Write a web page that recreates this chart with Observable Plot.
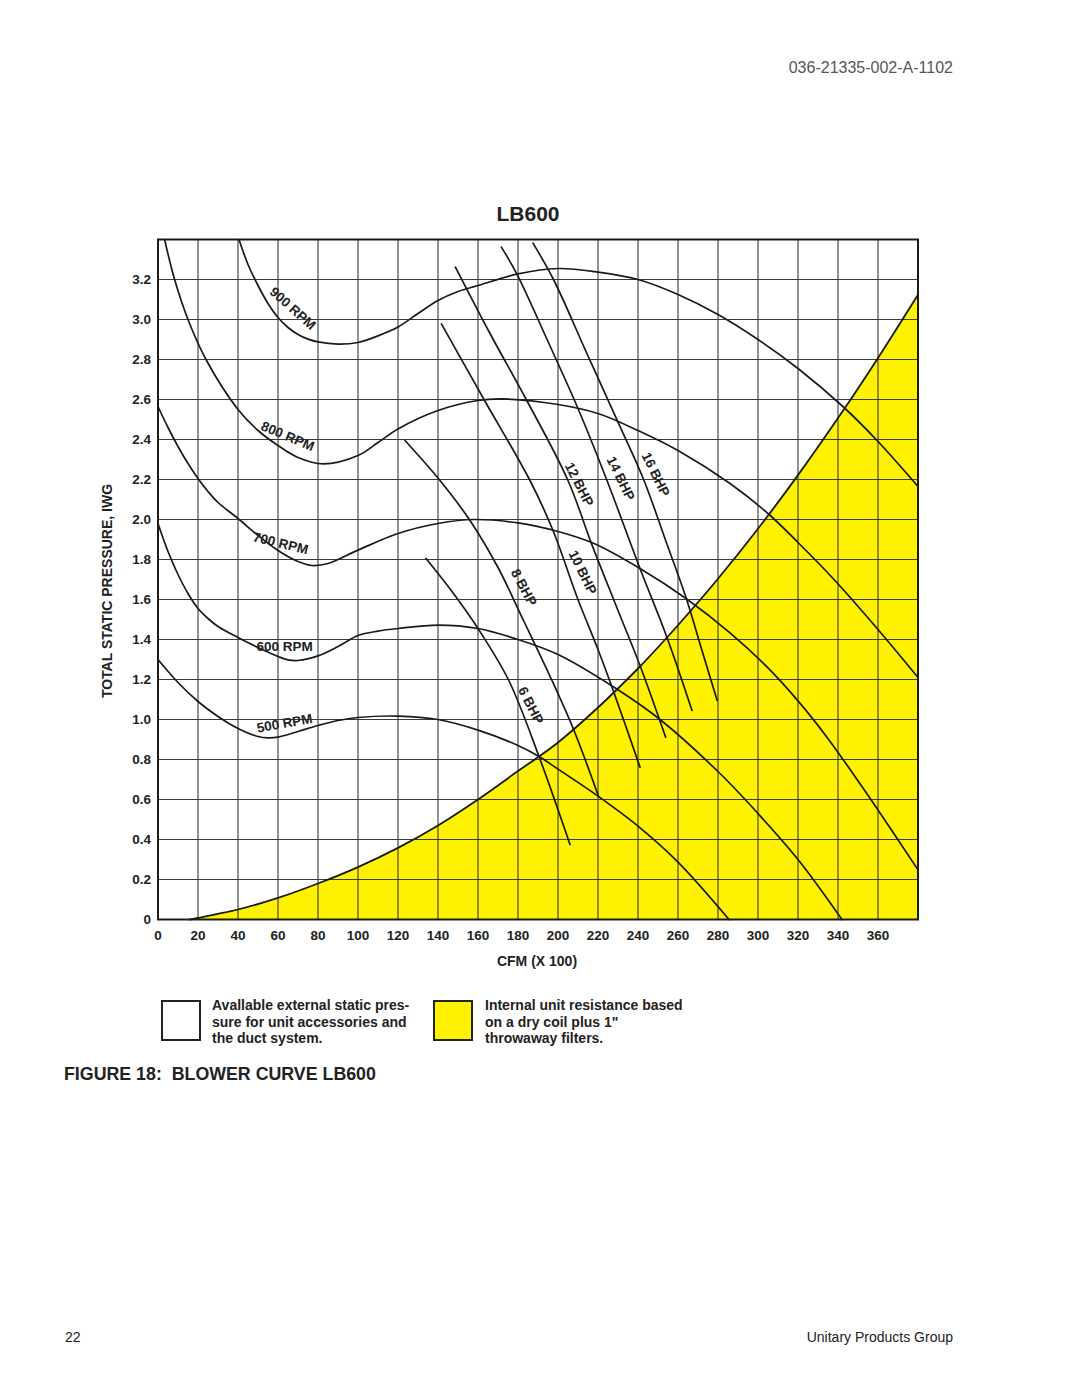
<!DOCTYPE html>
<html>
<head>
<meta charset="utf-8">
<script src="https://cdn.jsdelivr.net/npm/d3@7"></script>
<script src="https://cdn.jsdelivr.net/npm/@observablehq/plot@0.6"></script>
<style>
  html, body { margin: 0; padding: 0; background: #fff; }
  body { width: 1080px; height: 1397px; position: relative; overflow: hidden;
         font-family: "Liberation Sans", Arial, Helvetica, sans-serif; color: #222; }
  .abs { position: absolute; white-space: pre; }
  #chart { position: absolute; left: 0; top: 200px; }
  .bold { font-weight: bold; }
</style>
</head>
<body>
<div class="abs" style="right:127px; top:59px; font-size:16px; color:#555;">036-21335-002-A-1102</div>
<div class="abs bold" style="left:0; width:1056px; text-align:center; top:202px; font-size:21px; color:#222;">LB600</div>
<div id="chart"></div>
<div class="abs bold" style="left:107px; top:591px; font-size:14px; transform:translate(-50%,-50%) rotate(-90deg);">TOTAL STATIC PRESSURE, IWG</div>
<div class="abs bold" style="left:537px; top:961px; font-size:14px; transform:translate(-50%,-50%);">CFM (X 100)</div>

<div class="abs" style="left:161px; top:1000px; width:36px; height:37px; border:2px solid #222; background:#fff;"></div>
<div class="abs bold" style="left:212px; top:997px; font-size:14px; line-height:16.6px;">Avallable external static pres-
sure for unit accessories and
the duct system.</div>
<div class="abs" style="left:433px; top:1000px; width:36px; height:37px; border:2px solid #222; background:#fff200;"></div>
<div class="abs bold" style="left:485px; top:997px; font-size:14px; line-height:16.6px;">Internal unit resistance based
on a dry coil plus 1"
throwaway filters.</div>

<div class="abs bold" style="left:64px; top:1064px; font-size:17.8px;">FIGURE 18:  BLOWER CURVE LB600</div>
<div class="abs" style="left:65px; top:1329px; font-size:14px;">22</div>
<div class="abs" style="right:127px; top:1329px; font-size:14px;">Unitary Products Group</div>

<script>
// ---- Axis ticks ----
const xTicks = d3.range(0, 361, 20);
const yTicks = [0, 0.2, 0.4, 0.6, 0.8, 1.0, 1.2, 1.4, 1.6, 1.8, 2.0, 2.2, 2.4, 2.6, 2.8, 3.0, 3.2];
const xGrid = d3.range(20, 361, 20);
const yGrid = [0.2, 0.4, 0.6, 0.8, 1.0, 1.2, 1.4, 1.6, 1.8, 2.0, 2.2, 2.4, 2.6, 2.8, 3.0, 3.2];

// ---- Internal unit resistance (yellow region boundary): [CFM x100, IWG] ----
const internalResistance = [[16,0],[20,0.008],[30,0.028],[40,0.05],[60,0.108],[80,0.18],[100,0.262],[120,0.358],[140,0.47],[160,0.60],[180,0.742],[190.5,0.815],[200,0.885],[220,1.06],[240,1.255],[254.5,1.41],[266,1.54],[280,1.704],[300,1.954],[320,2.222],[343,2.551],[360,2.808],[380,3.124]];

// ---- Blower RPM curves ----
const rpm500 = [[0,1.30],[10,1.185],[20,1.09],[30,1.015],[40,0.955],[50,0.915],[55,0.908],[60,0.912],[70,0.94],[80,0.97],[90,0.995],[100,1.01],[120,1.017],[140,1.0],[160,0.947],[180,0.87],[190.5,0.815],[200,0.752],[220,0.617],[240,0.467],[260,0.287],[285.5,0]];
const rpm600 = [[0,1.98],[5,1.84],[10,1.725],[15,1.63],[20,1.555],[25,1.505],[30,1.465],[40,1.41],[50,1.36],[60,1.315],[65,1.298],[70,1.295],[80,1.318],[90,1.365],[100,1.42],[110,1.442],[120,1.455],[140,1.472],[160,1.455],[180,1.40],[200,1.325],[229,1.155],[251,1.0],[281,0.73],[300,0.53],[320,0.3],[342,0]];
const rpm700 = [[0,2.565],[5,2.46],[10,2.365],[15,2.28],[20,2.205],[25,2.14],[30,2.085],[40,2.005],[50,1.92],[60,1.845],[70,1.79],[77,1.77],[85,1.78],[100,1.847],[120,1.93],[140,1.98],[158,2.0],[180,1.983],[200,1.94],[218,1.88],[241,1.755],[264,1.605],[286,1.433],[305,1.258],[320,1.093],[334,0.918],[349,0.708],[360,0.548],[380,0.248]];
const rpm800 = [[3.3,3.4],[8.3,3.2],[15,3.0],[24,2.8],[40,2.55],[50,2.445],[60,2.37],[70,2.31],[82.5,2.278],[100,2.32],[110,2.385],[120,2.453],[140,2.545],[160,2.595],[172.5,2.603],[200,2.575],[220,2.53],[240,2.445],[260,2.345],[286,2.18],[305,2.03],[320,1.885],[338,1.70],[360,1.45],[380,1.21]];
const rpm900 = [[40.5,3.4],[45,3.275],[50,3.17],[55,3.08],[60,3.01],[65,2.96],[70,2.925],[75,2.902],[80,2.888],[90,2.877],[100,2.885],[110,2.918],[120,2.962],[130,3.03],[140,3.095],[150,3.14],[160,3.17],[180,3.228],[200,3.255],[220,3.237],[240,3.2],[260,3.125],[280,3.025],[300,2.9],[320,2.755],[343,2.56],[360,2.39],[380,2.165]];

// ---- Brake horsepower lines ----
const bhp6 = [[134,1.805],[147,1.64],[160,1.455],[175.4,1.195],[190.5,0.815],[206,0.375]];
const bhp8 = [[123.5,2.395],[141,2.195],[156,1.995],[170,1.76],[183,1.49],[197,1.195],[208,0.945],[220.4,0.612]];
const bhp10 = [[141.7,2.978],[163,2.6],[186,2.195],[197.5,1.945],[210,1.6],[220,1.35],[227,1.162],[241,0.762]];
const bhp12 = [[148.7,3.262],[166,2.93],[184.4,2.595],[205,2.195],[216.8,1.878],[229,1.57],[241,1.27],[253.8,0.912]];
const bhp14 = [[171.7,3.362],[179.4,3.228],[195,2.89],[210,2.555],[224.5,2.195],[241,1.755],[254.5,1.41],[267,1.045]];
const bhp16 = [[187.5,3.382],[198,3.195],[214,2.84],[230,2.487],[243,2.195],[254,1.89],[264,1.61],[272,1.345],[279.6,1.095]];

// ---- Curve labels: [text, CFM, IWG, angle] ----
const curveLabels = [
  ["900 RPM", 67.3, 3.055, 42], ["800 RPM", 64.8, 2.415, 23], ["700 RPM", 61.3, 1.88, 14],
  ["600 RPM", 63.3, 1.365, 0], ["500 RPM", 63.3, 0.98, -10],
  ["6 BHP", 186.3, 1.07, 63], ["8 BHP", 182.8, 1.66, 62], ["10 BHP", 212.3, 1.735, 64],
  ["12 BHP", 210.5, 2.175, 63], ["14 BHP", 231.3, 2.205, 64], ["16 BHP", 248.8, 2.225, 64]
];

const toRows = (name, pts) => pts.map(([x, y]) => ({name, x, y}));
const curves = [
  ...toRows("500", rpm500), ...toRows("600", rpm600), ...toRows("700", rpm700),
  ...toRows("800", rpm800), ...toRows("900", rpm900),
  ...toRows("b6", bhp6), ...toRows("b8", bhp8), ...toRows("b10", bhp10),
  ...toRows("b12", bhp12), ...toRows("b14", bhp14), ...toRows("b16", bhp16)
];
const internal = toRows("internal", internalResistance);
const labels = curveLabels.map(([text, x, y, rotate]) => ({text, x, y, rotate}));

const chart = Plot.plot({
  width: 1080,
  height: 800,
  marginLeft: 157.5,
  marginRight: 162.5,
  marginTop: 39,
  marginBottom: 81,
  style: {fontFamily: "'Liberation Sans', Arial, Helvetica, sans-serif", fontSize: "13.5px", fontWeight: "bold", color: "#222", background: "transparent"},
  x: {domain: [0, 380], ticks: xTicks, tickSize: 0, tickPadding: 11, tickFormat: d => String(d), label: null},
  y: {domain: [0, 3.4], ticks: yTicks, tickSize: 0, tickPadding: 7, tickFormat: d => d === 0 ? "0" : d.toFixed(1), label: null},
  marks: [
    Plot.areaY(internal, {x: "x", y: "y", fill: "#fff200", curve: "catmull-rom"}),
    Plot.ruleX(xGrid, {stroke: "#3a3a3a", strokeWidth: 1.1}),
    Plot.ruleY(yGrid, {stroke: "#3a3a3a", strokeWidth: 1.1}),
    Plot.line(internal, {x: "x", y: "y", stroke: "#1a1a1a", strokeWidth: 1.8, curve: "catmull-rom"}),
    Plot.line(curves, {x: "x", y: "y", z: "name", stroke: "#1a1a1a", strokeWidth: 1.7, curve: "catmull-rom"}),
    Plot.frame({stroke: "#1a1a1a", strokeWidth: 2}),
    Plot.text(labels, {x: "x", y: "y", text: "text", rotate: "rotate", fontSize: 13.5, fontWeight: "bold", fill: "#222"}),
    Plot.axisX({ticks: xTicks, tickSize: 0, tickPadding: 11, tickFormat: d => String(d), label: null}),
    Plot.axisY({ticks: yTicks, tickSize: 0, tickPadding: 7, tickFormat: d => d === 0 ? "0" : d.toFixed(1), label: null})
  ]
});
document.getElementById("chart").append(chart);
</script>
</body>
</html>
